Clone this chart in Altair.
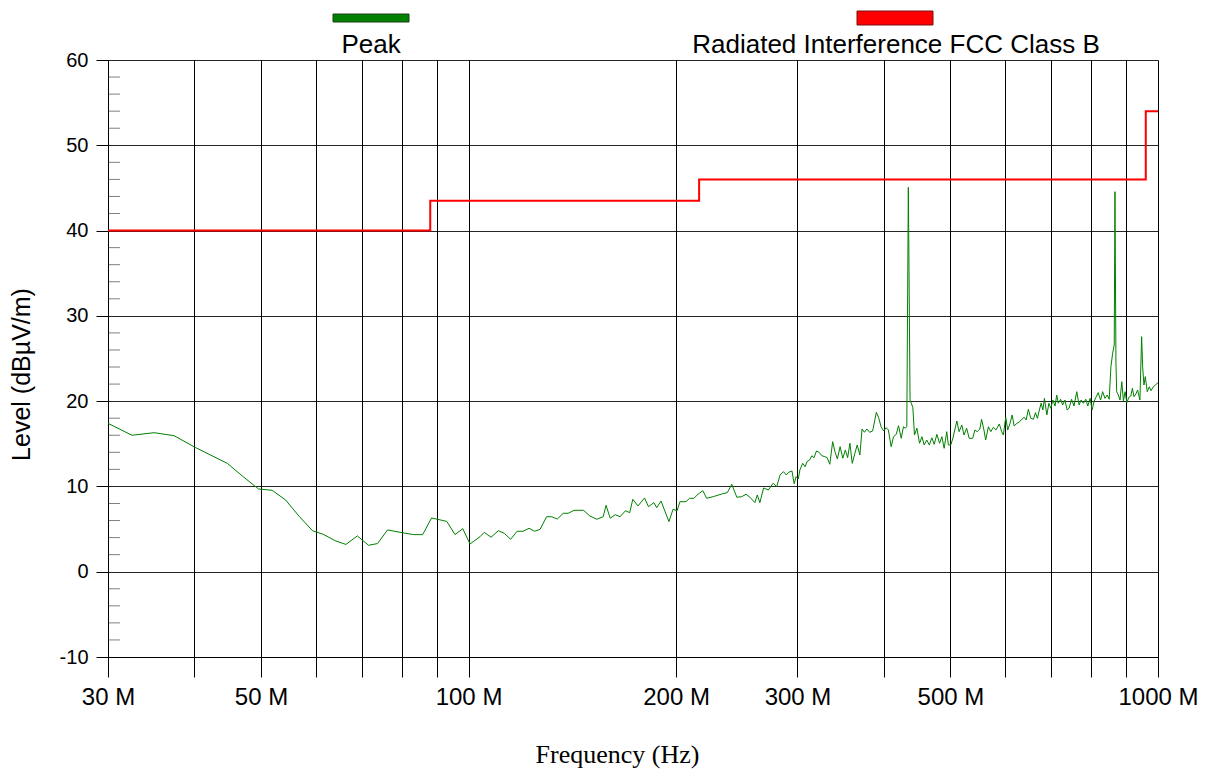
import altair as alt
import pandas as pd

# ---- Peak trace (MHz, dBuV/m) ----
seg1_mhz = [30.0, 32.5, 35.0, 37.4, 40.2, 42.2, 44.7, 47.1, 49.6, 51.9,
            54.3, 56.8, 59.4, 61.5, 64.2, 66.4, 69.0, 71.6, 73.8, 76.3,
            79.8, 83.2, 85.8, 88.4, 93.0, 95.6, 98.1, 100.5, 103.9]
seg1_dbuv = [17.4, 16.0, 16.3, 15.95, 14.55, 13.7, 12.7, 11.15, 9.7, 9.55,
             8.4, 6.5, 4.8, 4.4, 3.6, 3.2, 4.2, 3.1, 3.3, 4.9,
             4.6, 4.35, 4.35, 6.3, 5.9, 4.35, 5.05, 3.25, 4.1]

seg2_mhz = [105.4, 107.8, 110.5, 112.7, 115.1, 117.6, 120.0, 122.4, 124.7, 127.0,
            129.8, 132.0, 134.5, 137.2, 139.5, 142.3, 146.8, 150.0, 153.5, 156.8,
            158.3, 160.5, 163.2, 165.9, 168.9, 171.3, 173.1, 176.1, 180.0, 182.4,
            185.7, 187.5, 190.2, 195.3, 198.0, 200.7, 202.6, 206.7, 209.2, 212.3,
            215.3, 218.7, 221.5, 226.4, 232.9, 237.3, 240.9, 245.0, 249.0, 252.7,
            256.0, 260.2, 262.3, 264.6, 267.9, 272.1, 276.6, 279.9]
seg2_dbuv = [4.62, 4.04, 4.81, 4.5, 3.8, 4.74, 4.74, 5.09, 4.74, 4.97,
             6.45, 6.45, 6.18, 6.85, 6.85, 7.2, 7.2, 6.53, 6.15, 6.45,
             7.79, 6.27, 6.69, 6.45, 7.15, 6.92, 8.49, 7.71, 8.65, 7.63,
             8.1, 7.51, 8.29, 5.87, 7.32, 7.15, 8.21, 8.21, 8.61, 8.61,
             9.11, 9.5, 8.61, 8.8, 9.11, 9.27, 10.25, 8.73, 8.8, 9.08,
             8.73, 8.1, 9.0, 8.1, 9.82, 9.58, 10.37, 9.97]

seg3_mhz = [283.0, 286.3, 289.0, 291.3, 294.5, 296.7, 298.6, 300.8, 302.4, 305.3,
            307.8, 309.6, 312.4, 314.7, 317.0, 319.7, 322.4, 325.4, 328.7, 331.2,
            334.2, 337.4, 340.0, 342.7, 345.9, 349.0, 352.0, 354.7, 357.4, 360.2,
            363.4, 366.2, 369.5, 372.2, 375.2, 378.3, 381.7, 385.6, 390.4, 393.4,
            396.6, 400.0, 403.4, 406.4, 410.2, 413.4, 417.2, 420.4, 424.2, 427.4,
            429.8, 432.2, 434.4, 436.9, 441.0, 443.4, 447.0, 451.0, 454.6, 458.0,
            462.0, 466.0, 469.9, 473.6, 477.9, 482.1, 485.9, 489.6, 493.9, 496.5,
            500.6, 504.0, 510.8, 514.7, 519.3, 523.2, 527.8, 532.3, 538.5, 542.6,
            546.7, 551.6]
seg3_dbuv = [11.34, 11.73, 11.34, 11.66, 11.81, 10.32, 11.14, 10.87, 11.93, 12.71,
             12.31, 12.9, 13.1, 13.6, 13.37, 14.16, 14.0, 13.6, 13.49, 13.37,
             12.6, 15.25, 14.07, 13.22, 14.66, 13.3, 14.27, 13.37, 15.06, 12.71,
             13.89, 14.86, 13.69, 16.73, 16.35, 16.73, 16.35, 16.5, 18.69, 18.06,
             17.0, 16.5, 16.89, 16.62, 14.66, 15.83, 16.11, 17.12, 15.64, 17.0,
             16.82, 17.0, 45.07, 20.13, 19.26, 16.03, 16.82, 15.06, 15.83, 14.86,
             15.44, 14.86, 15.71, 14.94, 16.11, 15.06, 15.83, 14.47, 16.42, 14.86,
             14.86, 15.64, 17.67, 16.42, 17.2, 16.03, 16.82, 15.64, 15.64, 16.62,
             16.42, 16.73]

seg4_mhz = [554.8, 559.2, 562.4, 567.6, 572.1, 577.1, 582.2, 588.6, 593.4, 596.6,
            601.4, 605.4, 610.1, 614.4, 618.6, 624.3, 629.7, 634.8, 639.6, 643.8,
            648.6, 653.9, 659.7, 664.1, 668.5, 672.9, 676.8, 680.8, 684.4, 689.9,
            694.6, 699.2, 703.8, 709.1, 713.0, 716.7, 722.5, 727.3, 732.8, 738.3,
            743.1, 749.3, 755.4, 762.4, 768.3, 773.5, 779.5, 785.8, 791.0, 797.2,
            802.4, 807.6, 812.8, 818.8, 825.6, 831.2, 837.6, 844.0, 849.6, 854.5,
            859.4, 864.0, 866.1, 869.0, 871.1, 875.9, 881.0, 886.1, 890.9, 896.0,
            901.1, 907.2, 913.2, 918.0, 923.0, 929.0, 934.1, 941.4, 946.8, 950.0,
            954.2, 958.4, 964.8, 971.4, 977.0, 984.6, 991.2, 1000.0]
seg4_dbuv = [17.87, 16.62, 15.44, 17.0, 16.42, 16.93, 16.62, 17.32, 16.42, 16.03,
             18.11, 16.62, 17.4, 18.38, 17.09, 17.4, 17.59, 17.87, 18.11, 17.79,
             19.04, 17.99, 17.87, 18.65, 17.99, 18.96, 19.75, 18.96, 20.33, 18.38,
             19.75, 19.16, 20.13, 19.43, 20.72, 19.75, 20.22, 19.55, 20.13, 18.96,
             19.16, 20.22, 19.43, 21.11, 19.55, 20.13, 19.75, 20.22, 19.43, 20.33,
             18.96, 19.94, 20.45, 20.99, 20.13, 21.11, 20.33, 20.72, 20.22, 24.04,
             25.61, 26.58, 44.56, 24.44, 21.11, 20.72, 20.13, 22.28, 20.05, 21.11,
             19.82, 20.45, 20.6, 21.51, 20.52, 20.84, 21.31, 20.13, 27.56, 24.04,
             21.89, 22.87, 21.11, 21.69, 21.23, 21.69, 21.89, 22.16]

# ---- FCC Class B limit ----
limit_mhz = [30, 88, 216, 960, 1000]
limit_dbuv = [40, 43.5, 46, 54, 54]

x_tick_values = [30, 40, 50, 60, 70, 80, 90, 100, 200, 300, 400, 500, 600, 700, 800, 900, 1000]
x_label_values = [30, 50, 100, 200, 300, 500, 1000]
y_tick_values = [-10, 0, 10, 20, 30, 40, 50, 60]
y_minor_values = [v for v in range(-8, 60, 2) if v % 10 != 0]

legend_names = ["Peak", "Radiated Interference FCC Class B"]
legend_colors = ["#008000", "#ff0000"]

mhz = seg1_mhz + seg2_mhz + seg3_mhz + seg4_mhz
dbuv = seg1_dbuv + seg2_dbuv + seg3_dbuv + seg4_dbuv
assert len(mhz) == len(dbuv)

peak_df = pd.DataFrame({"f": mhz, "level": dbuv})
limit_df = pd.DataFrame({"f": limit_mhz, "level": limit_dbuv})
minor_df = pd.DataFrame({"level": y_minor_values})

W, H = 1050, 597
FONT = "Liberation Sans"

xscale = alt.Scale(type="log", domain=[30, 1000], nice=False)
yscale = alt.Scale(domain=[-10, 60], nice=False, zero=False)

label_list = ",".join(str(v) for v in x_label_values)
x_axis = alt.Axis(
    values=x_tick_values,
    labelExpr=f"indexof([{label_list}], datum.value) >= 0 ? datum.value + ' M' : ''",
    grid=True, gridColor="#000000", gridWidth=1, gridOpacity=1,
    tickSize=20, tickColor="#000000", tickWidth=1,
    domainColor="#000000", domainWidth=1,
    labelFont=FONT, labelFontSize=24, labelColor="#000000", labelPadding=8,
    labelOverlap=False, labelFlush=False, labelBound=False,
    title="Frequency (Hz)", titleFont="Liberation Serif", titleFontSize=26,
    titleFontWeight="normal", titleColor="#000000",
    titleX=509, titleY=97, titleBaseline="middle", titleAlign="center",
)
y_axis = alt.Axis(
    values=y_tick_values,
    labelExpr="'' + datum.value",
    grid=True, gridColor="#000000", gridWidth=1, gridOpacity=0.85,
    tickSize=12, tickColor="#000000", tickWidth=1,
    domainColor="#000000", domainWidth=1,
    labelFont=FONT, labelFontSize=20, labelColor="#000000", labelPadding=8,
    labelOverlap=False, labelFlush=False,
    title="Level (dBµV/m)", titleFont=FONT, titleFontSize=25,
    titleFontWeight="normal", titleColor="#000000",
    titleX=-87, titleY=314, titleAngle=-90, titleBaseline="middle", titleAlign="center",
)

base_x = alt.X("f:Q", scale=xscale, axis=x_axis)
base_y = alt.Y("level:Q", scale=yscale, axis=y_axis)

peak_line = alt.Chart(peak_df).mark_line(color="#008000", strokeWidth=1).encode(
    x=base_x, y=base_y)

limit_line = alt.Chart(limit_df).mark_line(
    color="#ff0000", strokeWidth=2, interpolate="step-after").encode(
    x=alt.X("f:Q", scale=xscale), y=alt.Y("level:Q", scale=yscale))

minor_ticks = alt.Chart(minor_df).mark_rule(color="#808080", strokeWidth=1).encode(
    y=alt.Y("level:Q", scale=yscale), x=alt.value(1), x2=alt.value(12))

# ---- legend (drawn above the plot) ----
leg_peak_rect = alt.Chart(pd.DataFrame({"name": [legend_names[0]]})).mark_rect(
    color=legend_colors[0], stroke="#1f3f1f", strokeWidth=1).encode(
    x=alt.value(225), x2=alt.value(301), y=alt.value(-46), y2=alt.value(-38))
leg_peak_text = alt.Chart(pd.DataFrame({"name": [legend_names[0]]})).mark_text(
    font=FONT, fontSize=26, color="#000000", align="center", baseline="middle").encode(
    text="name:N", x=alt.value(263), y=alt.value(-15))
leg_lim_rect = alt.Chart(pd.DataFrame({"name": [legend_names[1]]})).mark_rect(
    color=legend_colors[1], stroke="#7a1010", strokeWidth=1).encode(
    x=alt.value(749), x2=alt.value(825), y=alt.value(-49), y2=alt.value(-35))
leg_lim_text = alt.Chart(pd.DataFrame({"name": [legend_names[1]]})).mark_text(
    font=FONT, fontSize=26, color="#000000", align="center", baseline="middle").encode(
    text="name:N", x=alt.value(788), y=alt.value(-15))

chart = alt.layer(
    peak_line, limit_line, minor_ticks,
    leg_peak_rect, leg_peak_text, leg_lim_rect, leg_lim_text,
).properties(
    width=W, height=H,
    autosize=alt.AutoSizeParams(type="none"),
    padding={"left": 100, "top": 52, "right": 40, "bottom": 114},
    background="#ffffff",
).configure_view(stroke=None)

chart.save("out.html", embed_options={"renderer": "svg", "actions": False})
